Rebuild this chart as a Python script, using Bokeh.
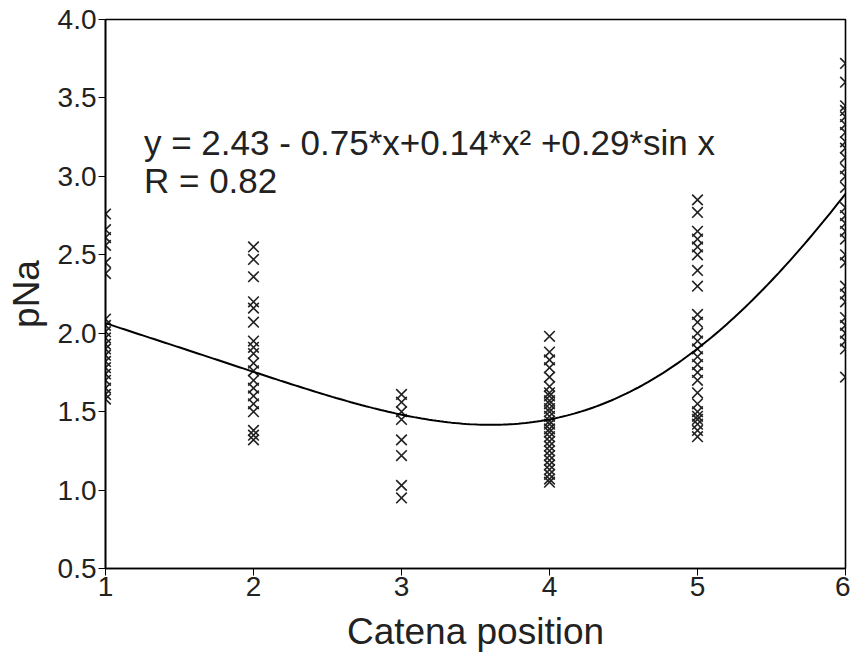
import numpy as np
from bokeh.plotting import figure
from bokeh.models import Label, FixedTicker, NumeralTickFormatter, Range1d, ColumnDataSource
from bokeh.embed import file_html
from bokeh.resources import INLINE

# Observed pNa values at each catena position
pos1 = [2.76, 2.66, 2.61, 2.56, 2.45, 2.38, 2.09, 2.05, 2.01, 1.97, 1.93, 1.9, 1.86,
        1.82, 1.78, 1.74, 1.7, 1.65, 1.61, 1.58]
pos2 = [2.55, 2.47, 2.36, 2.2, 2.16, 2.07, 1.95, 1.91, 1.87, 1.81, 1.76, 1.7, 1.65,
        1.6, 1.55, 1.5, 1.38, 1.35, 1.32]
pos3 = [1.61, 1.56, 1.5, 1.45, 1.32, 1.22, 1.03, 0.95]
pos4 = [1.98, 1.88, 1.83, 1.78, 1.72, 1.66, 1.62, 1.6, 1.57, 1.55, 1.52, 1.5, 1.47,
        1.44, 1.42, 1.39, 1.37, 1.34, 1.31, 1.28, 1.25, 1.22, 1.19, 1.16, 1.13,
        1.1, 1.07, 1.05]
pos5 = [2.85, 2.77, 2.65, 2.6, 2.55, 2.5, 2.4, 2.3, 2.12, 2.07, 2.0, 1.95, 1.9,
        1.85, 1.8, 1.75, 1.7, 1.62, 1.55, 1.5, 1.47, 1.45, 1.42, 1.38, 1.34]
pos6 = [3.72, 3.6, 3.45, 3.42, 3.38, 3.33, 3.28, 3.22, 3.18, 3.12, 3.05, 3.0, 2.93,
        2.8, 2.75, 2.7, 2.65, 2.6, 2.5, 2.45, 2.3, 2.25, 2.2, 2.1, 2.05, 2.0, 1.95,
        1.9, 1.72]
positions = [1, 2, 3, 4, 5, 6]
groups = [pos1, pos2, pos3, pos4, pos5, pos6]

# Fitted model coefficients (as printed on the chart)
coef_a, coef_b, coef_c, coef_d = 2.43, -0.75, 0.14, 0.29
eq_text = "y = 2.43 - 0.75*x+0.14*x\u00b2 +0.29*sin x"
r_text = "R = 0.82"

x_ticks = [1, 2, 3, 4, 5, 6]
y_ticks = [0.5, 1.0, 1.5, 2.0, 2.5, 3.0, 3.5, 4.0]

xs, ys = [], []
for pos, vals in zip(positions, groups):
    xs += [pos] * len(vals)
    ys += vals

fx = np.linspace(1, 6, 200)
fy = coef_a + coef_b * fx + coef_c * fx ** 2 + coef_d * np.sin(fx)

p = figure(width=850, height=654, output_backend="svg", toolbar_location=None,
           x_range=Range1d(1, 6), y_range=Range1d(0.5, 4.0),
           min_border_left=105, min_border_right=5, min_border_top=19,
           min_border_bottom=86)
p.background_fill_color = "white"
p.border_fill_color = "white"
p.outline_line_color = "black"
p.outline_line_width = 1.6
p.xgrid.visible = False
p.ygrid.visible = False

font = "Liberation Sans"
for ax in (p.xaxis[0], p.yaxis[0]):
    ax.axis_line_color = "black"
    ax.axis_line_width = 1.6
    ax.major_tick_line_color = "black"
    ax.major_tick_out = 7
    ax.major_tick_in = 0
    ax.minor_tick_line_color = None
    ax.major_label_text_font = font
    ax.major_label_text_font_size = "28px"
    ax.major_label_text_color = "#222222"
    ax.axis_label_text_font = font
    ax.axis_label_text_font_style = "normal"
    ax.axis_label_text_font_size = "37px"
    ax.axis_label_text_color = "#222222"

p.xaxis.ticker = FixedTicker(ticks=x_ticks)
p.yaxis.ticker = FixedTicker(ticks=y_ticks)
p.yaxis.formatter = NumeralTickFormatter(format="0.0")
p.xaxis.axis_label = "Catena position"
p.yaxis.axis_label = "pNa"
p.xaxis.major_label_standoff = 1
p.yaxis.major_label_standoff = 2
p.xaxis.axis_label_standoff = 12
p.yaxis.axis_label_standoff = 8

src = ColumnDataSource(dict(x=xs, y=ys))
p.scatter("x", "y", source=src, marker="x", size=15, line_color="#222222",
          line_width=1.6)
p.line(fx, fy, line_color="black", line_width=2)

p.add_layout(Label(x=1.26, y=3.09, text=eq_text, text_font=font,
                   text_font_size="35px", text_color="#222222"))
p.add_layout(Label(x=1.26, y=2.85, text=r_text, text_font=font,
                   text_font_size="35px", text_color="#222222"))

open("out.html", "w").write(file_html(p, INLINE))
